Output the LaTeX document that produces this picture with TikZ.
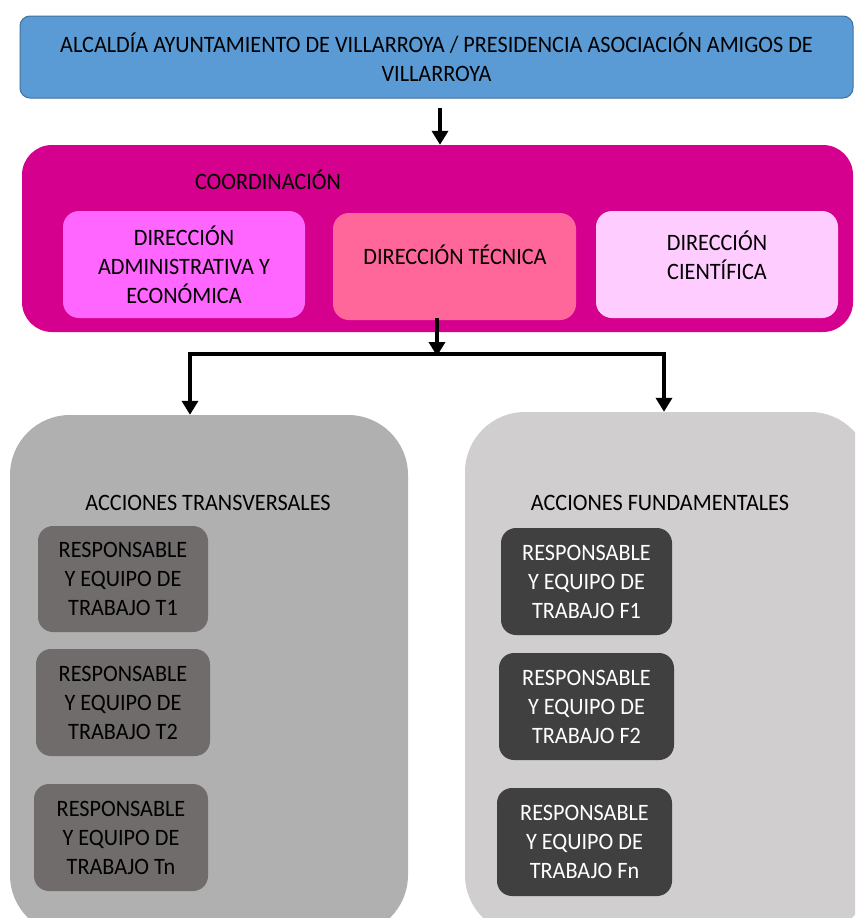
\documentclass[tikz,border=0pt]{standalone}
\usepackage{fontspec}
\setmainfont{Carlito}[FakeStretch=0.945]
\usetikzlibrary{arrows.meta}
\definecolor{topblue}{HTML}{5B9BD5}
\definecolor{topedge}{HTML}{41719C}
\definecolor{coordmag}{HTML}{D6008F}
\definecolor{admpink}{HTML}{FF66FF}
\definecolor{tecpink}{HTML}{FF6699}
\definecolor{ciepink}{HTML}{FFCCFF}
\definecolor{lgray}{HTML}{B0B0B0}
\definecolor{rgray}{HTML}{D0CECE}
\definecolor{tbox}{HTML}{706C6C}
\definecolor{fbox}{HTML}{404040}
\begin{document}
\begin{tikzpicture}[x=1pt,y=-1pt,
  txt/.style={font=\fontsize{23.5}{29}\selectfont, align=center, inner sep=0pt},
  panel/.style={draw=none, rectangle, inner sep=0pt, txt},
  arr/.style={line width=4pt, -{Triangle[width=16pt,length=14pt]}},
  bar/.style={line width=4pt, line join=miter}
]
\useasboundingbox (0,0) rectangle (855,918);
\clip (0,0) rectangle (855,918);
\fill[white] (0,0) rectangle (855,918);

% top box
\node[panel, fill=topblue, draw=topedge, line width=1pt, rounded corners=10pt,
  minimum width=833pt, minimum height=82pt] (top) at (436.5,57)
  {ALCALDÍA AYUNTAMIENTO DE VILLARROYA / PRESIDENCIA ASOCIACIÓN AMIGOS DE\\VILLARROYA};

% coordination
\node[panel, fill=coordmag, rounded corners=30pt,
  minimum width=831pt, minimum height=187pt] (coordbox) at (437.5,238.5) {};
\node[txt] (coordt) at (268,180) {COORDINACIÓN};
\node[panel, fill=admpink, rounded corners=16pt,
  minimum width=242pt, minimum height=107pt] (adm) at (184,264.5)
  {DIRECCIÓN\\ADMINISTRATIVA Y\\ECONÓMICA};
\node[panel, fill=tecpink, rounded corners=16pt,
  minimum width=243pt, minimum height=107pt] (tec) at (454.5,266.5) {};
\node[txt] (tect) at (455,255) {DIRECCIÓN TÉCNICA};
\node[panel, fill=ciepink, rounded corners=16pt,
  minimum width=242pt, minimum height=107pt] (cie) at (717,264.5) {};
\node[txt] (ciet) at (717,255) {DIRECCIÓN\\CIENTÍFICA};

% gray panels
\node[panel, fill=lgray, rounded corners=60pt,
  minimum width=398pt, minimum height=520pt] (trans) at (209,675) {};
\node[txt] (transt) at (208,503) {ACCIONES TRANSVERSALES};
\node[panel, fill=rgray, rounded corners=60pt,
  minimum width=405pt, minimum height=523pt] (fund) at (667.5,673.5) {};
\node[txt] (fundt) at (660,503) {ACCIONES FUNDAMENTALES};

\node[panel, fill=tbox, rounded corners=15pt, minimum width=170pt, minimum height=106pt]
  (t1) at (123,579) {RESPONSABLE\\Y EQUIPO DE\\TRABAJO T1};
\node[panel, fill=tbox, rounded corners=15pt, minimum width=174pt, minimum height=107pt]
  (t2) at (123,702.5) {RESPONSABLE\\Y EQUIPO DE\\TRABAJO T2};
\node[panel, fill=tbox, rounded corners=15pt, minimum width=174pt, minimum height=107pt]
  (tn) at (121,837.5) {RESPONSABLE\\Y EQUIPO DE\\TRABAJO Tn};

\node[panel, fill=fbox, text=white, rounded corners=15pt, minimum width=171pt, minimum height=107pt]
  (f1) at (586.5,581.5) {RESPONSABLE\\Y EQUIPO DE\\TRABAJO F1};
\node[panel, fill=fbox, text=white, rounded corners=15pt, minimum width=175pt, minimum height=107pt]
  (f2) at (586.5,706.5) {RESPONSABLE\\Y EQUIPO DE\\TRABAJO F2};
\node[panel, fill=fbox, text=white, rounded corners=15pt, minimum width=175pt, minimum height=108pt]
  (fn) at (584.5,842) {RESPONSABLE\\Y EQUIPO DE\\TRABAJO Fn};

% connectors
\coordinate (a1) at (440,108);
\draw[arr] (a1) -- (a1 |- coordbox.north);
\coordinate (a2) at (437,318);
\coordinate (bm) at (437,354);
\coordinate (bl) at (190,354);
\coordinate (br) at (664,354);
\draw[bar] ([xshift=-2pt]bl) -- ([xshift=2pt]br);
\draw[arr] (a2) -- ([yshift=-2pt]bm);
\draw[arr] (bl) -- (bl |- trans.north);
\draw[arr] (br) -- (br |- fund.north);
\end{tikzpicture}
\end{document}
